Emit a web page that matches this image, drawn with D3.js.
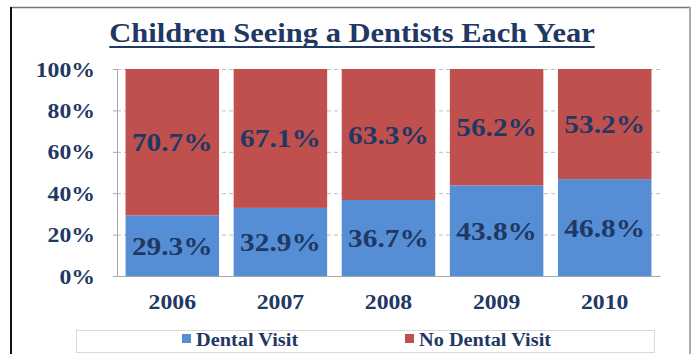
<!DOCTYPE html>
<html><head><meta charset="utf-8">
<script src="https://cdn.jsdelivr.net/npm/d3@7"></script>
<style>body{margin:0;background:#fff}svg{display:block}</style>
</head><body><svg id="c" width="696" height="354"></svg>
<script>
const years = ["2006","2007","2008","2009","2010"];
const dentalVisit = [29.3, 32.9, 36.7, 43.8, 46.8];
const noDentalVisit = [70.7, 67.1, 63.3, 56.2, 53.2];
const yTicks = [0, 20, 40, 60, 80, 100];
const seriesNames = ["Dental Visit", "No Dental Visit"];
const title = "Children Seeing a Dentists Each Year";

const W = 696, H = 354;
const SX = 1.13; // horizontal text stretch seen in the reference
const navy = "#1f3864";
const colors = ["#558ed5", "#c0504d"];
const font = "'Liberation Serif','Times New Roman',serif";
const svg = d3.select("#c");

svg.append("rect").attr("width", W).attr("height", H).attr("fill", "#fff");
// outer frame
svg.append("line").attr("x1", 10).attr("x2", 691).attr("y1", 7.5).attr("y2", 7.5).attr("stroke", "#777").attr("stroke-width", 1.5);
svg.append("line").attr("x1", 11).attr("x2", 11).attr("y1", 7).attr("y2", H).attr("stroke", "#111").attr("stroke-width", 2);
svg.append("line").attr("x1", 690).attr("x2", 690).attr("y1", 7).attr("y2", H).attr("stroke", "#aaa").attr("stroke-width", 2);

function txt(g, s, x, y, size, anchor, color) {
  return g.append("text").text(s)
    .attr("transform", `translate(${x},${y}) scale(${SX},1)`)
    .attr("text-anchor", anchor || "middle")
    .attr("font-family", font).attr("font-weight", "bold")
    .attr("font-size", size).attr("fill", color || navy);
}

// title
const t = txt(svg, title, 352, 42, 27, "middle");
const tw = t.node().getComputedTextLength() * SX;
svg.append("line").attr("x1", 352 - tw / 2).attr("x2", 352 + tw / 2)
  .attr("y1", 47).attr("y2", 47).attr("stroke", navy).attr("stroke-width", 2);

const plot = {x0: 117, x1: 660, y0: 69, y1: 276};
const x = d3.scaleBand().domain(years).range([plot.x0, plot.x1]).paddingInner(0.135).paddingOuter(0.079);
const y = d3.scaleLinear().domain([0, 100]).range([plot.y1, plot.y0]);

// gridlines
svg.append("g").selectAll("line").data(yTicks.filter(d => d > 0)).join("line")
  .attr("x1", plot.x0).attr("x2", plot.x1).attr("y1", d => y(d) + 0.5).attr("y2", d => y(d) + 0.5)
  .attr("stroke", "#bfbfbf").attr("stroke-dasharray", "4,3");

// bars
const stack = d3.stack().keys([0, 1]).value((d, k) => d[k]);
const rows = years.map((yr, i) => { const r = [dentalVisit[i], noDentalVisit[i]]; r.year = yr; return r; });
const series = stack(rows);
const bars = svg.append("g");
series.forEach((s, k) => {
  bars.selectAll(null).data(s).join("rect")
    .attr("x", d => x(d.data.year)).attr("width", x.bandwidth())
    .attr("y", d => y(d[1])).attr("height", d => y(d[0]) - y(d[1]))
    .attr("fill", colors[k]);
});

// axes lines
const yAxis = svg.append("g").attr("transform", `translate(${plot.x0},0)`)
  .call(d3.axisLeft(y).tickValues(yTicks).tickSize(4).tickFormat(""));
yAxis.select(".domain").attr("stroke", "#a6a6a6");
yAxis.selectAll(".tick line").attr("stroke", "#a6a6a6");
const xAxis = svg.append("g").attr("transform", `translate(0,${plot.y1})`)
  .call(d3.axisBottom(x).tickSize(0).tickFormat(""));
xAxis.select(".domain").attr("stroke", "#a6a6a6");

// y tick labels
yTicks.forEach(v => txt(svg, v + "%", 95, y(v) + 7.5, 21, "end"));

// year labels
years.forEach(yr => txt(svg, yr, x(yr) + x.bandwidth() / 2, 309, 21, "middle"));

// value labels
series.forEach((s, k) => {
  s.forEach(d => {
    const v = d[1] - d[0];
    txt(svg, v.toFixed(1) + "%", x(d.data.year) + x.bandwidth() / 2, (y(d[0]) + y(d[1])) / 2 + 9, 26, "middle");
  });
});

// legend
svg.append("rect").attr("x", 76.5).attr("y", 330.5).attr("width", 578).attr("height", 22)
  .attr("fill", "#fff").attr("stroke", "#d9d9d9");
const legX = [182, 405];
seriesNames.forEach((n, k) => {
  svg.append("rect").attr("x", legX[k]).attr("y", 334).attr("width", 9).attr("height", 9).attr("fill", colors[k]);
  txt(svg, n, legX[k] + 14, 346, 18, "start");
});
</script></body></html>
